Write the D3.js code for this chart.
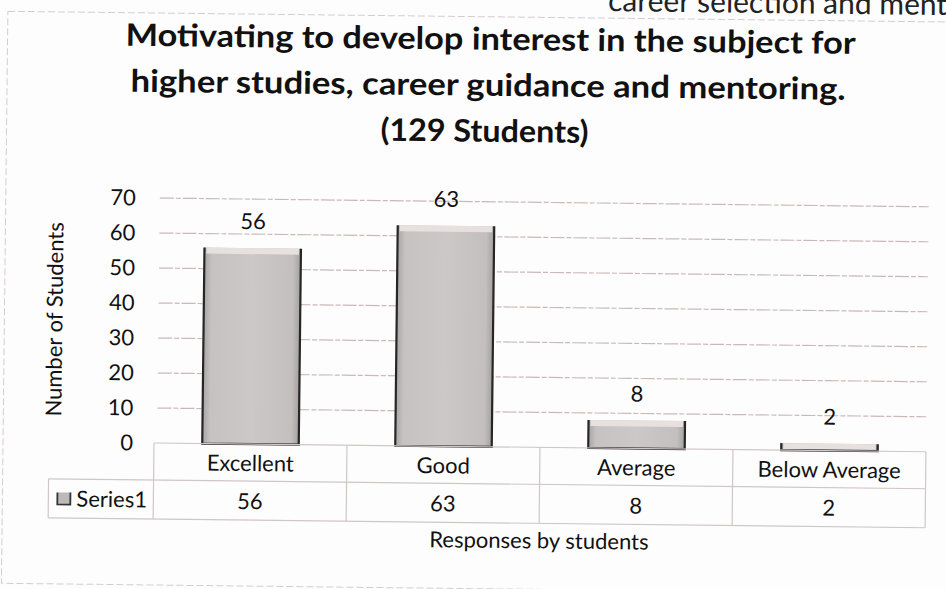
<!DOCTYPE html>
<html>
<head>
<meta charset="utf-8">
<script src="https://cdn.jsdelivr.net/npm/d3@7"></script>
<style>
  body { margin: 0; background: #fff; }
  svg { display: block; font-family: Lato, "Open Sans", sans-serif; }
</style>
</head>
<body>
<div id="chart"></div>
<script>
// chart values
const categories = ["Excellent", "Good", "Average", "Below Average"];
const values = [56, 63, 8, 2];
const seriesName = "Series1";
const yTicks = [0, 10, 20, 30, 40, 50, 60, 70];
const titleLines = [
  "Motivating to develop interest in the subject for",
  "higher studies, career guidance and mentoring.",
  "(129 Students)"
];
const yTitle = "Number of Students";
const xTitle = "Responses by students";
const cutText = "career selection and mentoring";

const W = 946, H = 589;
const plotLeft = 154, plotRight = 926, plotTop = 198, plotBottom = 443;
const rowH = [37, 39];
const fs = 22;

const svg = d3.select("#chart").append("svg")
  .attr("width", W)
  .attr("height", H);

svg.append("rect").attr("width", W).attr("height", H).attr("fill", "#fefdfd");

// the scanned page is slightly tilted
const g = svg.append("g").attr("transform", "rotate(0.65," + plotLeft + "," + plotBottom + ")");

// leftover of the previous chart title at the very top
g.append("text")
  .attr("x", 603).attr("y", 6)
  .attr("font-size", 30)
  .attr("fill", "#222")
  .text(cutText);

// chart frame
g.append("rect")
  .attr("x", 3).attr("y", 13)
  .attr("width", 990).attr("height", 572)
  .attr("fill", "none")
  .attr("stroke", "#d6cccc")
  .attr("stroke-dasharray", "7,3");

const x = d3.scaleBand().domain(categories).range([plotLeft, plotRight])
  .paddingInner(0.5).paddingOuter(0.25);
const y = d3.scaleLinear().domain([0, 70]).range([plotBottom, plotTop]);

// title
const titleW = [730, 715, 208];
g.append("g").selectAll("text")
  .data(titleLines)
  .join("text")
  .attr("x", (d, i) => [486, 484, 481][i])
  .attr("y", (d, i) => 46 + i * 46)
  .attr("text-anchor", "middle")
  .attr("font-size", 31)
  .attr("font-weight", "bold")
  .attr("fill", "#111")
  .attr("textLength", (d, i) => titleW[i])
  .attr("lengthAdjust", "spacingAndGlyphs")
  .text(d => d);

// gridlines
g.append("g").selectAll("line")
  .data(yTicks.filter(d => d > 0))
  .join("line")
  .attr("x1", plotLeft + 3).attr("x2", plotRight)
  .attr("y1", d => y(d)).attr("y2", d => y(d))
  .attr("stroke", "#c9b9b9")
  .attr("stroke-width", 1.2)
  .attr("stroke-dasharray", "14,2,5,2");

// y axis labels
const yAxis = g.append("g")
  .attr("transform", "translate(" + plotLeft + ",0)")
  .call(d3.axisLeft(y).tickValues(yTicks).tickSize(0).tickPadding(21));
yAxis.select(".domain").remove();
yAxis.selectAll("text")
  .attr("font-size", fs)
  .attr("font-family", "Lato, sans-serif")
  .attr("fill", "#111");

// bars
const defs = svg.append("defs");
const grad = defs.append("linearGradient").attr("id", "barGrad")
  .attr("x1", "0").attr("x2", "1").attr("y1", "0").attr("y2", "0");
grad.append("stop").attr("offset", "0").attr("stop-color", "#a9a5a4");
grad.append("stop").attr("offset", "0.08").attr("stop-color", "#c6c2c1");
grad.append("stop").attr("offset", "0.5").attr("stop-color", "#ccc8c7");
grad.append("stop").attr("offset", "0.92").attr("stop-color", "#c3bfbe");
grad.append("stop").attr("offset", "1").attr("stop-color", "#a3a09f");

const bars = g.append("g").selectAll("g")
  .data(values)
  .join("g");

bars.append("rect")
  .attr("x", (d, i) => x(categories[i]))
  .attr("y", d => y(d))
  .attr("width", x.bandwidth())
  .attr("height", d => y(0) - y(d))
  .attr("fill", "url(#barGrad)");

bars.append("rect")
  .attr("x", (d, i) => x(categories[i]) + 2)
  .attr("y", d => y(d))
  .attr("width", x.bandwidth() - 4)
  .attr("height", d => Math.min(6, y(0) - y(d)))
  .attr("fill", "#e6e1df");

bars.append("path")
  .attr("d", (d, i) => {
    const x0 = x(categories[i]), x1 = x0 + x.bandwidth();
    return "M" + x0 + "," + y(d) + "V" + y(0) + "H" + x1 + "V" + y(d);
  })
  .attr("stroke", "#262626")
  .attr("stroke-width", 2.2)
  .attr("fill", "none");

// data labels
g.append("g").selectAll("text")
  .data(values)
  .join("text")
  .attr("x", (d, i) => x(categories[i]) + x.bandwidth() / 2)
  .attr("y", d => y(d) - 19)
  .attr("text-anchor", "middle")
  .attr("font-size", fs)
  .attr("fill", "#111")
  .text(d => d);

// data table
const colX = i => x(categories[i]) - x.step() * 0.25;
const table = g.append("g")
  .attr("stroke", "#cfc6c6")
  .attr("stroke-width", 1.2)
  .attr("fill", "none");

table.append("line")
  .attr("x1", plotLeft).attr("x2", plotRight)
  .attr("y1", plotBottom).attr("y2", plotBottom);
table.append("line")
  .attr("x1", 49).attr("x2", plotRight)
  .attr("y1", plotBottom + rowH[0]).attr("y2", plotBottom + rowH[0]);
table.append("line")
  .attr("x1", 49).attr("x2", plotRight)
  .attr("y1", plotBottom + rowH[0] + rowH[1]).attr("y2", plotBottom + rowH[0] + rowH[1]);
table.append("line")
  .attr("x1", 49).attr("x2", 49)
  .attr("y1", plotBottom + rowH[0]).attr("y2", plotBottom + rowH[0] + rowH[1]);
table.selectAll(".col")
  .data(categories.concat(["end"]))
  .join("line")
  .attr("class", "col")
  .attr("x1", (d, i) => i < categories.length ? colX(i) : plotRight)
  .attr("x2", (d, i) => i < categories.length ? colX(i) : plotRight)
  .attr("y1", plotBottom)
  .attr("y2", plotBottom + rowH[0] + rowH[1]);

g.append("g").selectAll("text")
  .data(categories)
  .join("text")
  .attr("x", d => x(d) + x.bandwidth() / 2)
  .attr("y", plotBottom + 27)
  .attr("text-anchor", "middle")
  .attr("font-size", fs)
  .attr("fill", "#111")
  .text(d => d);

g.append("g").selectAll("text")
  .data(values)
  .join("text")
  .attr("x", (d, i) => x(categories[i]) + x.bandwidth() / 2)
  .attr("y", plotBottom + rowH[0] + 28)
  .attr("text-anchor", "middle")
  .attr("font-size", fs)
  .attr("fill", "#111")
  .text(d => d);

// legend key + series name
const ly = plotBottom + rowH[0] + rowH[1] / 2;
g.append("path")
  .attr("d", "M58," + (ly - 6) + "V" + (ly + 6) + "H71V" + (ly - 6))
  .attr("fill", "#bdb9b8")
  .attr("stroke", "#333")
  .attr("stroke-width", 1.8);
g.append("text")
  .attr("x", 77).attr("y", ly + 8)
  .attr("font-size", fs)
  .attr("fill", "#111")
  .text(seriesName);

// axis titles
g.append("text")
  .attr("transform", "translate(61," + ((plotTop + plotBottom) / 2) + ") rotate(-90)")
  .attr("text-anchor", "middle")
  .attr("font-size", fs)
  .attr("fill", "#111")
  .text(yTitle);

g.append("text")
  .attr("x", (plotLeft + plotRight) / 2)
  .attr("y", 544)
  .attr("text-anchor", "middle")
  .attr("font-size", fs)
  .attr("fill", "#111")
  .text(xTitle);
</script>
</body>
</html>
